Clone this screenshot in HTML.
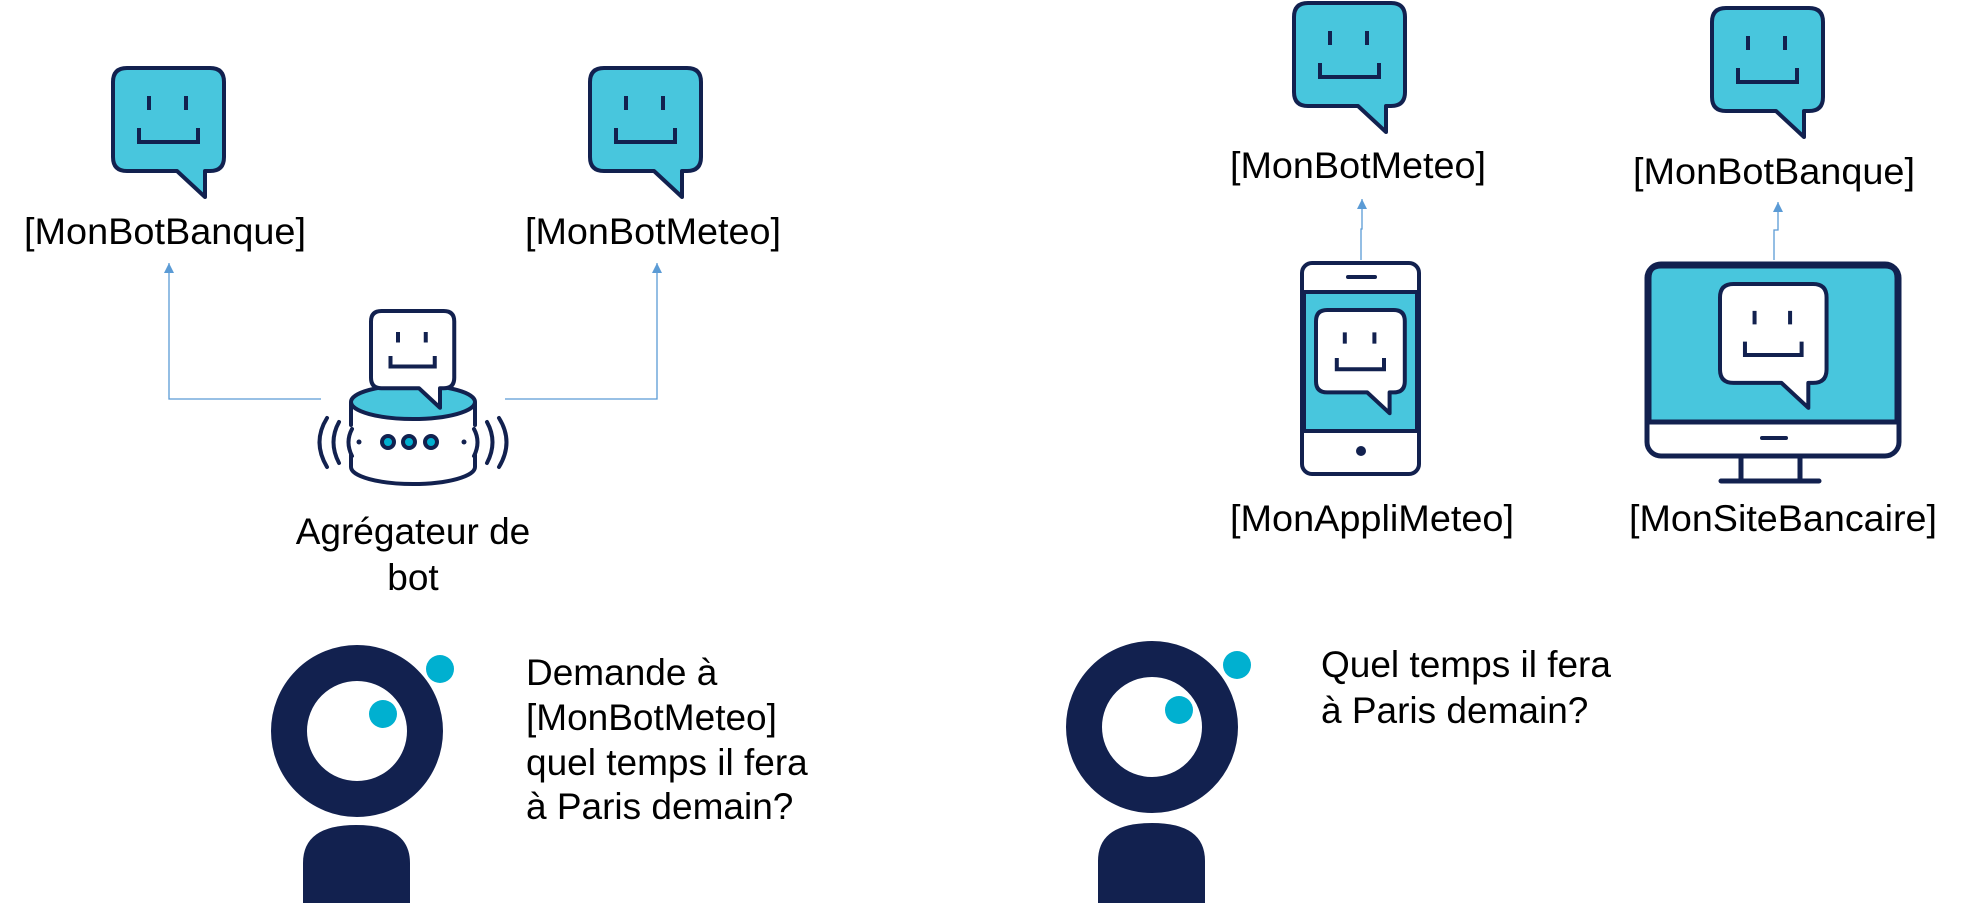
<!DOCTYPE html>
<html><head><meta charset="utf-8"><style>
html,body{margin:0;padding:0;background:#fff;}
svg{display:block;}
text{font-family:"Liberation Sans",Arial,sans-serif;font-size:37px;fill:#000;}
</style></head><body>
<svg width="1966" height="903" viewBox="0 0 1966 903" xmlns="http://www.w3.org/2000/svg">
<defs>
<g id="bub">
<path d="M14,0 H97 Q111,0 111,14 V89 Q111,103 97,103 H92 V129 L64,103 H14 Q0,103 0,89 V14 Q0,0 14,0Z" stroke="#12214f" stroke-width="4" stroke-linejoin="round" vector-effect="non-scaling-stroke"/>
<path d="M36,28 V42 M73,28 V42 M26,60 V74 H85 V60" fill="none" stroke="#12214f" stroke-width="4" vector-effect="non-scaling-stroke"/>
</g>
<marker id="ar" markerWidth="12" markerHeight="12" refX="10" refY="5" orient="auto" markerUnits="userSpaceOnUse">
<path d="M0,0 L10,5 L0,10Z" fill="#5b9bd5"/>
</marker>
</defs>

<!-- Left diagram -->
<use href="#bub" fill="#48c6dd" transform="translate(113,68)"/>
<use href="#bub" fill="#48c6dd" transform="translate(590,68)"/>
<text x="165" y="244" text-anchor="middle" textLength="282" lengthAdjust="spacingAndGlyphs">[MonBotBanque]</text>
<text x="653" y="244" text-anchor="middle" textLength="256" lengthAdjust="spacingAndGlyphs">[MonBotMeteo]</text>

<path d="M321,399 H169 V263" fill="none" stroke="#5b9bd5" stroke-width="1.3" marker-end="url(#ar)"/>
<path d="M505,399 H657 V263" fill="none" stroke="#5b9bd5" stroke-width="1.3" marker-end="url(#ar)"/>

<!-- aggregator -->
<g stroke="#12214f" stroke-width="4" fill="none" stroke-linecap="round">
<path d="M351,403 V425 M351,455 V467 A62,17 0 0 0 475,467 V455 M475,425 V403" fill="#fff"/>
<ellipse cx="413" cy="402" rx="62" ry="17" fill="#48c6dd"/>
<path d="M352,429 Q345,442 352,456 M339,422 Q328,442 339,463 M327,418 Q312,442 327,467"/>
<path d="M474,429 Q481,442 474,456 M487,422 Q498,442 487,463 M499,418 Q514,442 499,467"/>
<circle cx="388" cy="442" r="6" fill="#00b0d0"/>
<circle cx="409" cy="442" r="6" fill="#00b0d0"/>
<circle cx="431" cy="442" r="6" fill="#00b0d0"/>
</g>
<circle cx="359" cy="442" r="2.5" fill="#12214f"/>
<circle cx="464" cy="442" r="2.5" fill="#12214f"/>
<use href="#bub" fill="#fff" transform="translate(371,311) scale(0.75)"/>
<text x="413" y="544" text-anchor="middle">Agrégateur de</text>
<text x="413" y="590" text-anchor="middle">bot</text>

<!-- person 1 -->
<circle cx="357" cy="731" r="68" fill="none" stroke="#12214f" stroke-width="36"/>
<circle cx="383" cy="714" r="14" fill="#00b0d0"/>
<circle cx="440" cy="669" r="14" fill="#00b0d0"/>
<path d="M303,903 V863 Q303,825 356,825 Q410,825 410,863 V903Z" fill="#12214f"/>
<text x="526" y="685">Demande à</text>
<text x="526" y="730">[MonBotMeteo]</text>
<text x="526" y="775">quel temps il fera</text>
<text x="526" y="819">à Paris demain?</text>

<!-- Right diagram -->
<use href="#bub" fill="#48c6dd" transform="translate(1294,3)"/>
<use href="#bub" fill="#48c6dd" transform="translate(1712,8)"/>
<text x="1358" y="178" text-anchor="middle" textLength="256" lengthAdjust="spacingAndGlyphs">[MonBotMeteo]</text>
<text x="1774" y="184" text-anchor="middle" textLength="282" lengthAdjust="spacingAndGlyphs">[MonBotBanque]</text>

<path d="M1361,260 V229 H1362 V199" fill="none" stroke="#5b9bd5" stroke-width="1.3" marker-end="url(#ar)"/>
<path d="M1774,260 V230 H1778 V202" fill="none" stroke="#5b9bd5" stroke-width="1.3" marker-end="url(#ar)"/>

<!-- phone -->
<rect x="1302" y="263" width="117" height="211" rx="10" fill="#fff" stroke="#12214f" stroke-width="4"/>
<rect x="1304" y="292" width="113" height="139" fill="#48c6dd" stroke="#12214f" stroke-width="4"/>
<path d="M1348,277 H1375" stroke="#12214f" stroke-width="4" stroke-linecap="round"/>
<circle cx="1361" cy="451" r="5" fill="#12214f"/>
<use href="#bub" fill="#fff" transform="translate(1316,310) scale(0.8)"/>
<text x="1372" y="531" text-anchor="middle" textLength="284" lengthAdjust="spacingAndGlyphs">[MonAppliMeteo]</text>

<!-- monitor -->
<rect x="1647" y="264" width="252" height="192" rx="14" fill="#fff" stroke="#12214f" stroke-width="5"/>
<path d="M1649,422 V278 Q1649,266 1661,266 H1885 Q1897,266 1897,278 V422Z" fill="#48c6dd" stroke="#12214f" stroke-width="5"/>
<path d="M1762,438 H1786" stroke="#12214f" stroke-width="4" stroke-linecap="round"/>
<path d="M1741,456 V481 M1800,456 V481 M1721,481 H1819" stroke="#12214f" stroke-width="5" stroke-linecap="round"/>
<use href="#bub" fill="#fff" transform="translate(1720,284) scale(0.96)"/>
<text x="1783" y="531" text-anchor="middle" textLength="308" lengthAdjust="spacingAndGlyphs">[MonSiteBancaire]</text>

<!-- person 2 -->
<circle cx="1152" cy="727" r="68" fill="none" stroke="#12214f" stroke-width="36"/>
<circle cx="1179" cy="710" r="14" fill="#00b0d0"/>
<circle cx="1237" cy="665" r="14" fill="#00b0d0"/>
<path d="M1098,903 V861 Q1098,823 1152,823 Q1205,823 1205,861 V903Z" fill="#12214f"/>
<text x="1321" y="677">Quel temps il fera</text>
<text x="1321" y="723">à Paris demain?</text>
</svg>
</body></html>
